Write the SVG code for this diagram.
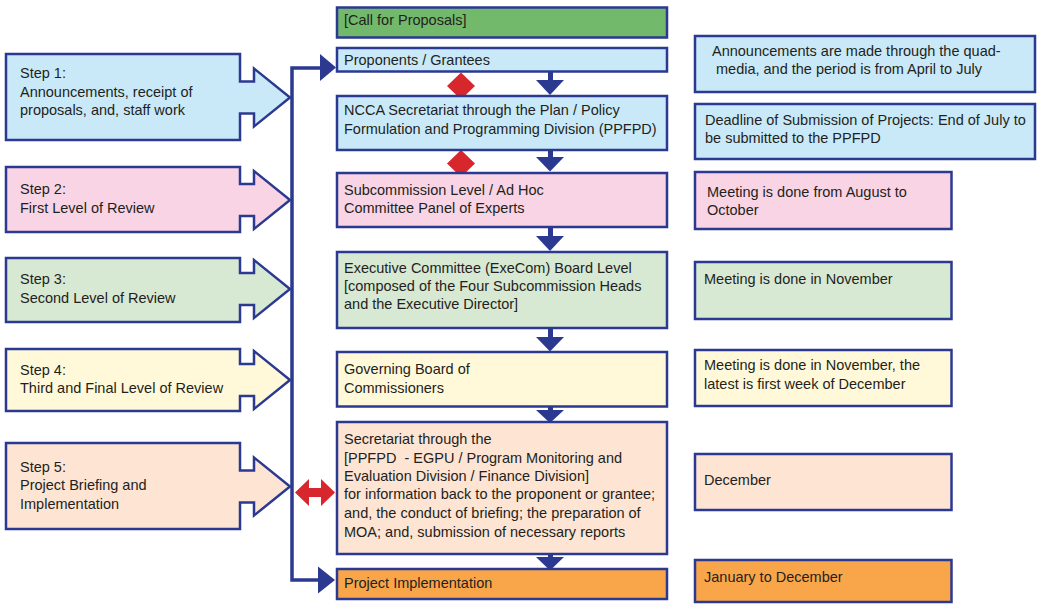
<svg xmlns="http://www.w3.org/2000/svg" width="1039" height="604" viewBox="0 0 1039 604">
<style>
text{font-family:"Liberation Sans","Noto Sans",Arial,sans-serif;font-size:14.5px;fill:#231f20}
.b{stroke:#2b3990;stroke-width:2.5}
.blue{fill:#c9e9f8}.pink{fill:#f9d4e5}.green{fill:#d7e8d3}.yellow{fill:#fff9d9}.peach{fill:#fde4d3}.orange{fill:#f9a64a}.call{fill:#72b96b}
.ar{fill:#2b3990}
.red{fill:#d7262c}
</style>
<rect width="1039" height="604" fill="#ffffff"/>
<g id="connectors">
<path d="M321,68 H292 V580 H321" fill="none" stroke="#2b3990" stroke-width="3.5"/>
<polygon class="ar" points="320,54 336,67.5 320,81"/>
<polygon class="ar" points="318,566.5 335,580 318,593.5"/>
<g class="ar">
<rect x="548" y="71" width="5" height="10"/><polygon points="536,80 564,80 550,95"/>
<rect x="548" y="149" width="5" height="9"/><polygon points="536,157 564,157 550,171.5"/>
<rect x="548" y="226" width="5" height="11"/><polygon points="536,236 564,236 550,251"/>
<rect x="548" y="327" width="5" height="11"/><polygon points="536,337 564,337 550,351.5"/>
<rect x="548" y="405" width="5" height="6"/><polygon points="536,410 564,410 550,423"/>
<rect x="548" y="553" width="5" height="5"/><polygon points="536,557 564,557 550,570.5"/>
</g>
<polygon class="red" points="461,72.5 475,86 461,99.5 447,86"/>
<polygon class="red" points="461,150 475,163.5 461,177 447,163.5"/>
<polygon class="red" points="295,492.5 309,479 309,488 321,488 321,479 335,492.5 321,506 321,497 309,497 309,506"/>
</g>
<g id="step1"><path class="b blue" d="M6,54 H240 V81.5 H254 V68.5 L290,97.5 L254,126.5 V113.5 H240 V140 H6 Z"/>
<text x="20" y="78">Step 1:</text><text x="20" y="96.5">Announcements, receipt of</text><text x="20" y="115">proposals, and, staff work</text></g>
<g id="step2"><path class="b pink" d="M6,167 H240 V184 H254 V171 L290,200 L254,229 V216 H240 V232 H6 Z"/>
<text x="20" y="194">Step 2:</text><text x="20" y="212.5">First Level of Review</text></g>
<g id="step3"><path class="b green" d="M6,258 H240 V273 H254 V260 L290,289 L254,318 V305 H240 V322 H6 Z"/>
<text x="20" y="284">Step 3:</text><text x="20" y="302.5">Second Level of Review</text></g>
<g id="step4"><path class="b yellow" d="M6,349 H240 V364 H254 V351 L290,380 L254,409 V396 H240 V411 H6 Z"/>
<text x="20" y="375">Step 4:</text><text x="20" y="393">Third and Final Level of Review</text></g>
<g id="step5"><path class="b peach" d="M6,443 H240 V470.5 H254 V457.5 L290,486.5 L254,515.5 V502.5 H240 V529 H6 Z"/>
<text x="20" y="471.5">Step 5:</text><text x="20" y="490">Project Briefing and</text><text x="20" y="508.5">Implementation</text></g>
<g id="call"><rect class="b call" x="337" y="7.5" width="330" height="30"/><text x="344" y="25">[Call for Proposals]</text></g>
<g id="proponents"><rect class="b blue" x="337" y="48" width="330" height="23.5"/><text x="344" y="64.5">Proponents / Grantees</text></g>
<g id="ncca"><rect class="b blue" x="337" y="96" width="330" height="54"/><text x="344" y="115">NCCA Secretariat through the Plan / Policy</text><text x="344" y="133.5">Formulation and Programming Division (PPFPD)</text></g>
<g id="subcommission"><rect class="b pink" x="337" y="173" width="330" height="54"/><text x="344" y="194.5">Subcommission Level / Ad Hoc</text><text x="344" y="212.5">Committee Panel of Experts</text></g>
<g id="execom"><rect class="b green" x="337" y="252" width="330" height="76"/><text x="344" y="272.5">Executive Committee (ExeCom) Board Level</text><text x="344" y="291">[composed of the Four Subcommission Heads</text><text x="344" y="309">and the Executive Director]</text></g>
<g id="governing"><rect class="b yellow" x="337" y="352" width="330" height="54.5"/><text x="344" y="374">Governing Board of</text><text x="344" y="392.5">Commissioners</text></g>
<g id="secretariat"><rect class="b peach" x="337" y="422" width="330" height="132"/><text x="344" y="444">Secretariat through the</text><text x="344" y="462.5">[PPFPD &#160;- EGPU / Program Monitoring and</text><text x="344" y="481">Evaluation Division / Finance Division]</text><text x="344" y="499">for information back to the proponent or grantee;</text><text x="344" y="518">and, the conduct of briefing; the preparation of</text><text x="344" y="536.5">MOA; and, submission of necessary reports</text></g>
<g id="implementation"><rect class="b orange" x="337" y="569" width="330" height="30"/><text x="344" y="587.5">Project Implementation</text></g>
<g id="note1"><rect class="b blue" x="695" y="36" width="340" height="56"/><text x="712" y="56">Announcements are made through the quad-</text><text x="716" y="74">media, and the period is from April to July</text></g>
<g id="note2"><rect class="b blue" x="695" y="104" width="340" height="55"/><text x="705" y="124.5">Deadline of Submission of Projects: End of July to</text><text x="705" y="142.5">be submitted to the PPFPD</text></g>
<g id="note3"><rect class="b pink" x="695" y="172" width="256.5" height="57"/><text x="707" y="197">Meeting is done from August to</text><text x="707" y="215">October</text></g>
<g id="note4"><rect class="b green" x="695" y="262" width="256.5" height="57"/><text x="704" y="284">Meeting is done in November</text></g>
<g id="note5"><rect class="b yellow" x="695" y="350" width="256.5" height="56"/><text x="704" y="370">Meeting is done in November, the</text><text x="704" y="388.5">latest is first week of December</text></g>
<g id="note6"><rect class="b peach" x="695" y="454" width="256.5" height="56"/><text x="704" y="485">December</text></g>
<g id="note7"><rect class="b orange" x="695" y="560" width="256.5" height="42"/><text x="704" y="582">January to December</text></g>
</svg>
